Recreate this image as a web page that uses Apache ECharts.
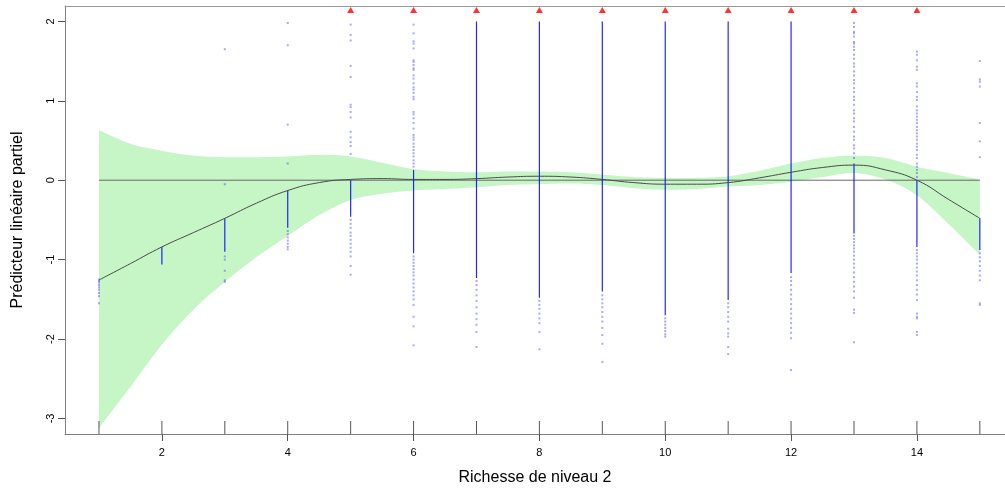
<!DOCTYPE html>
<html><head><meta charset="utf-8">
<script src="https://cdn.jsdelivr.net/npm/echarts@6/dist/echarts.min.js"></script>
<style>html,body{margin:0;padding:0;background:#fff}#c{width:1005px;height:488px}</style>
</head><body><div id="c"></div>
<script>
// ---- data ----
const fitX   = [1,1.5,2,2.5,3,3.5,4,4.5,5,5.5,6,6.5,7,7.5,8,8.5,9,9.5,10,10.5,11,11.5,12,12.5,13,13.5,14,14.5,15];
const fitY   = [-1.257,-1.05,-0.84,-0.66,-0.48,-0.29,-0.13,-0.03,0.01,0.02,0.01,0.01,0.02,0.04,0.05,0.04,0.01,-0.03,-0.05,-0.05,-0.03,0.03,0.10,0.16,0.19,0.13,0.0,-0.24,-0.48];
const bandUpper = [0.63,0.46,0.37,0.31,0.29,0.29,0.30,0.32,0.30,0.22,0.14,0.11,0.10,0.11,0.11,0.10,0.07,0.04,0.03,0.03,0.05,0.12,0.21,0.28,0.31,0.28,0.17,0.09,0.01];
const bandLower = [-3.12,-2.6,-2.07,-1.63,-1.28,-0.97,-0.70,-0.44,-0.25,-0.17,-0.13,-0.11,-0.09,-0.06,-0.05,-0.04,-0.06,-0.10,-0.12,-0.11,-0.08,-0.06,-0.02,0.04,0.09,0.01,-0.19,-0.55,-0.94];

const levels = [1,2,3,4,5,6,7,8,9,10,11,12,13,14,15];
// dense (solid) stretch of residuals at each level: [high, low]; null = none
const denseHi = [null,-0.84,-0.48,-0.13,0.0,0.13,2.0,2.0,2.0,2.0,2.0,2.0,0.21,0.0,-0.48];
const denseLo = [null,-1.06,-0.90,-0.60,-0.46,-0.92,-1.23,-1.48,-1.40,-1.70,-1.51,-1.17,-0.67,-0.84,-0.88];
// isolated residuals at each level
const sparseY = [
  [-1.25,-1.27,-1.29,-1.32,-1.35,-1.38,-1.42,-1.46,-1.55],
  [],
  [1.65,-0.05,-0.96,-1.0,-1.14,-1.26,-1.28],
  [1.98,1.70,0.70,0.21,-0.64,-0.68,-0.72,-0.76,-0.8,-0.84,-0.87],
  [1.96,1.83,1.76,1.44,1.30,0.95,0.92,0.86,0.79,0.61,0.54,0.48,0.43,0.33,-0.5,-0.55,-0.6,-0.66,-0.7,-0.75,-0.8,-0.85,-0.9,-0.96,-1.08,-1.19],
  [1.96,1.85,1.75,1.72,1.66,1.51,1.49,1.45,1.41,1.39,1.32,1.28,1.22,1.17,1.14,1.10,1.05,1.02,0.86,0.83,0.78,0.72,0.65,0.57,0.54,0.51,0.46,0.42,0.38,0.34,0.30,0.25,0.21,0.17,
   -0.96,-1.0,-1.04,-1.08,-1.12,-1.16,-1.2,-1.25,-1.3,-1.35,-1.4,-1.45,-1.5,-1.57,-1.72,-1.84,-2.08],
  [-1.27,-1.32,-1.38,-1.45,-1.52,-1.6,-1.68,-1.75,-1.82,-1.91,-2.1],
  [-1.52,-1.57,-1.62,-1.68,-1.74,-1.8,-1.91,-2.13],
  [-1.45,-1.5,-1.55,-1.6,-1.66,-1.72,-1.78,-1.86,-1.95,-2.06,-2.29],
  [-1.74,-1.78,-1.82,-1.86,-1.9,-1.94,-1.97],
  [-1.55,-1.6,-1.66,-1.72,-1.78,-1.87,-1.93,-1.97,-2.1,-2.19],
  [-1.22,-1.27,-1.32,-1.38,-1.44,-1.5,-1.56,-1.62,-1.68,-1.74,-1.8,-1.86,-1.92,-1.99,-2.39],
  [1.98,1.93,1.87,1.85,1.81,1.74,1.72,1.68,1.64,1.58,1.53,1.47,1.43,1.37,1.32,1.26,1.22,1.16,1.11,1.05,1.01,0.95,0.88,0.84,0.78,0.74,0.67,0.61,0.55,0.51,0.44,0.40,0.34,0.28,
   -0.7,-0.74,-0.78,-0.82,-0.86,-0.9,-0.95,-1.0,-1.05,-1.1,-1.16,-1.22,-1.28,-1.34,-1.4,-1.48,-1.63,-1.67,-2.04],
  [1.62,1.58,1.51,1.43,1.39,1.22,1.18,1.11,1.05,1.01,0.93,0.88,0.84,0.80,0.76,0.72,0.67,0.63,0.59,0.55,0.51,0.46,0.42,0.38,0.32,0.28,0.21,0.17,0.13,0.09,0.04,
   -0.88,-0.92,-0.96,-1.0,-1.05,-1.1,-1.15,-1.2,-1.26,-1.32,-1.38,-1.44,-1.51,-1.68,-1.72,-1.74,-1.91,-1.95],
  [1.50,1.27,1.24,1.18,0.72,0.49,0.29,-0.92,-0.97,-1.02,-1.08,-1.14,-1.2,-1.26,-1.55,-1.57]
];
// levels with residuals beyond the top of the plot (red triangles)
const overflowX = [5,6,7,8,9,10,11,12,13,14];
const overflowMarkY = 2.144;

const xTicks = [2,4,6,8,10,12,14];
const yTicks = [-3,-2,-1,0,1,2];
const X_MIN = 0.46, X_MAX = 15.40, Y_MIN = -3.196, Y_MAX = 2.194;

// ---- build ----
const fitData = fitX.map((x,i)=>[x,fitY[i]]);
const bandData = fitX.map((x,i)=>[x,bandLower[i],bandUpper[i]]);
const denseData = [];
levels.forEach((x,i)=>{ if(denseHi[i]!==null) denseData.push([x,denseLo[i],denseHi[i]]); });
const ptData = [];
levels.forEach((x,i)=>sparseY[i].forEach(y=>ptData.push([x,y])));
const triData = overflowX.map(x=>[x,overflowMarkY]);

// Catmull-Rom smoothing of a pixel polyline (rendering only)
function smoothPts(pts){
  const out=[];
  for(let i=0;i<pts.length-1;i++){
    const p0=pts[Math.max(i-1,0)],p1=pts[i],p2=pts[i+1],p3=pts[Math.min(i+2,pts.length-1)];
    for(let k=0;k<8;k++){
      const t=k/8,t2=t*t,t3=t2*t;
      const f=(a,b,c,d)=>0.5*((2*b)+(-a+c)*t+(2*a-5*b+4*c-d)*t2+(-a+3*b-3*c+d)*t3);
      out.push([f(p0[0],p1[0],p2[0],p3[0]),f(p0[1],p1[1],p2[1],p3[1])]);
    }
  }
  out.push(pts[pts.length-1]);
  return out;
}

const font = 'Liberation Sans, Arial, sans-serif';
const chart = echarts.init(document.getElementById('c'), null, {renderer:'canvas'});
chart.setOption({
  animation:false,
  backgroundColor:'#fff',
  grid:{left:65,right:0,top:6,bottom:54,outerBoundsMode:'none',containLabel:false},
  xAxis:[{
    type:'value',min:X_MIN,max:X_MAX,
    name:'Richesse de niveau 2',nameLocation:'middle',nameGap:36,
    nameTextStyle:{fontFamily:font,fontSize:16,color:'#000'},
    axisLine:{show:true,onZero:false,lineStyle:{color:'#7f7f7f',width:1}},
    axisTick:{show:true,length:7,customValues:xTicks,lineStyle:{color:'#555'}},
    axisLabel:{customValues:xTicks,fontFamily:font,fontSize:11,color:'#000',margin:13},
    splitLine:{show:false}
  },{
    type:'value',min:X_MIN,max:X_MAX,position:'top',
    axisLine:{show:true,onZero:false,lineStyle:{color:'#999',width:1}},
    axisTick:{show:false},axisLabel:{show:false},splitLine:{show:false}
  }],
  yAxis:{
    type:'value',min:Y_MIN,max:Y_MAX,
    name:'Prédicteur linéaire partiel',nameLocation:'middle',nameGap:39,
    nameTextStyle:{fontFamily:font,fontSize:16,color:'#000'},
    axisLine:{show:true,onZero:false,lineStyle:{color:'#7f7f7f',width:1}},
    axisTick:{show:true,length:7,customValues:yTicks,lineStyle:{color:'#555'}},
    axisLabel:{customValues:yTicks,rotate:90,fontFamily:font,fontSize:11,color:'#000',margin:9},
    splitLine:{show:false}
  },
  series:[
    {type:'custom',z:1,silent:true,data:[0],renderItem:(p,api)=>{
      const up=smoothPts(bandData.map(d=>api.coord([d[0],d[2]])));
      const lo=smoothPts(bandData.map(d=>api.coord([d[0],d[1]])));
      const pts=up.concat(lo.reverse());
      return {type:'polygon',shape:{points:pts},style:{fill:'#c6f5c6',stroke:null}};
    }},
    {type:'line',data:[[1,0],[15,0]],symbol:'none',lineStyle:{color:'#6a6a6a',width:1},z:2},
    {type:'custom',z:3,data:denseData,renderItem:(p,api)=>{
      const x=api.value(0),lo=api.value(1),hi=api.value(2);
      const a=api.coord([x,hi]),b=api.coord([x,lo]);
      return {type:'line',shape:{x1:a[0],y1:a[1],x2:b[0],y2:b[1]},style:{stroke:'rgba(0,0,255,0.85)',lineWidth:1.2}};
    }},
    {type:'scatter',data:ptData,symbol:'rect',symbolSize:2,itemStyle:{color:'rgba(60,60,255,0.55)'},z:3},
    {type:'line',data:fitData,smooth:true,symbol:'none',lineStyle:{color:'#4a4a4a',width:1},z:4},
    {type:'custom',z:5,data:levels.map(x=>[x]),clip:false,renderItem:(p,api)=>{
      const x=api.value(0); const a=api.coord([x,Y_MIN]);
      return {type:'line',shape:{x1:a[0],y1:a[1],x2:a[0],y2:a[1]-13},style:{stroke:'#555',lineWidth:1}};
    }},
    {type:'scatter',data:triData,symbol:'triangle',symbolSize:[7,6],itemStyle:{color:'#ff0000'},z:6,clip:false}
  ]
});
</script></body></html>
